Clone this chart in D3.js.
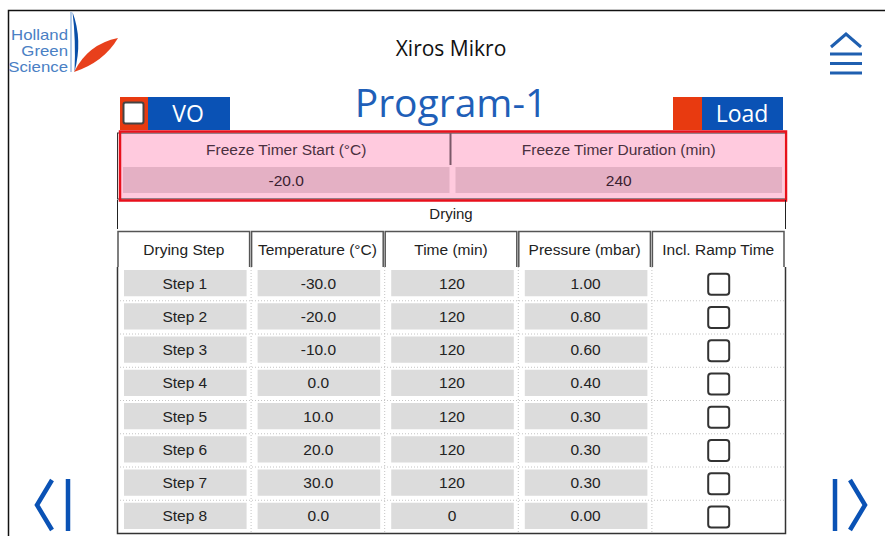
<!DOCTYPE html>
<html>
<head>
<meta charset="utf-8">
<script src="https://cdn.jsdelivr.net/npm/d3@7"></script>
<style>
  body { margin: 0; background: #fff; }
  svg { display: block; }
  .cell { font-family: "Liberation Sans", Arial, sans-serif; font-size: 15.5px; fill: #222; }
</style>
</head>
<body>
<script>
var svgWidth = 885;
var svgHeight = 536;

// data
var steps = ["Step 1", "Step 2", "Step 3", "Step 4", "Step 5", "Step 6", "Step 7", "Step 8"];
var temperatures = [-30.0, -20.0, -10.0, 0.0, 10.0, 20.0, 30.0, 0.0];
var times = [120, 120, 120, 120, 120, 120, 120, 0];
var pressures = [1.00, 0.80, 0.60, 0.40, 0.30, 0.30, 0.30, 0.00];
var rampTime = [false, false, false, false, false, false, false, false];
var columns = ["Drying Step", "Temperature (°C)", "Time (min)", "Pressure (mbar)", "Incl. Ramp Time"];
var freezeLabels = ["Freeze Timer Start (°C)", "Freeze Timer Duration (min)"];
var freezeValues = ["-20.0", "240"];

var blue = "#0a52b5";

var svg = d3.select("body")
            .append("svg")
            .attr("width", svgWidth)
            .attr("height", svgHeight);

// frame
svg.append("path")
   .attr("d", "M8.5,536 V10.5 H885")
   .attr("fill", "none")
   .attr("stroke", "#111")
   .attr("stroke-width", 1.5);

// logo
var logo = svg.append("g");
var logoText = logo.append("g").attr("transform", "translate(68,0) scale(1.2,1)");
["Holland", "Green", "Science"].forEach(function(t, i) {
    logoText.append("text")
        .attr("x", 0)
        .attr("y", 40 + i * 16)
        .attr("text-anchor", "end")
        .style("font-family", "'Liberation Sans', Arial, sans-serif")
        .style("font-size", "14px")
        .attr("fill", "#4a80c4")
        .text(t);
});
logo.append("line").attr("x1", 71).attr("x2", 71).attr("y1", 12).attr("y2", 72)
    .attr("stroke", "#9bbce4").attr("stroke-width", 1.5);
logo.append("path")
    .attr("d", "M72.5,12 Q83,40 74.5,72 Q76,40 72.5,12 Z")
    .attr("fill", "#0a4fa8");
logo.append("path")
    .attr("d", "M74,72 Q88,44 118,38 Q104,62 74,72 Z")
    .attr("fill", "#e8401c");

// header titles
svg.append("text")
   .attr("x", 451).attr("y", 56)
   .attr("text-anchor", "middle")
   .style("font-family", "'Open Sans', sans-serif")
   .style("font-size", "21px")
   .attr("fill", "#111")
   .text("Xiros Mikro");

svg.append("text")
   .attr("x", 451).attr("y", 117)
   .attr("text-anchor", "middle")
   .style("font-family", "'Open Sans', sans-serif")
   .style("font-size", "39px")
   .attr("fill", "#1f5fb8")
   .text("Program-1");

// menu icon
var menu = svg.append("g").attr("stroke", "#1f5fb0").attr("stroke-width", 3).attr("fill", "none");
menu.append("path").attr("d", "M831,47 L846,34 L861,47");
[54, 63.5, 73].forEach(function(y) {
    menu.append("line").attr("x1", 830).attr("x2", 862).attr("y1", y).attr("y2", y);
});

// VO button
svg.append("rect").attr("x", 120).attr("y", 97).attr("width", 28).attr("height", 33).attr("fill", "#e83a10");
svg.append("rect").attr("x", 148).attr("y", 97).attr("width", 82).attr("height", 33).attr("fill", blue);
svg.append("rect").attr("x", 123.5).attr("y", 102.5).attr("width", 20).attr("height", 21).attr("rx", 2)
   .attr("fill", "#fff").attr("stroke", "#444").attr("stroke-width", 2);
svg.append("text").attr("x", 188).attr("y", 122).attr("text-anchor", "middle")
   .style("font-family", "'Open Sans', sans-serif").style("font-size", "23px")
   .attr("fill", "#fff").text("VO");

// Load button
svg.append("rect").attr("x", 673).attr("y", 97).attr("width", 29).attr("height", 33).attr("fill", "#e83a10");
svg.append("rect").attr("x", 702).attr("y", 97).attr("width", 81).attr("height", 33).attr("fill", blue);
svg.append("text").attr("x", 742).attr("y", 122).attr("text-anchor", "middle")
   .style("font-family", "'Open Sans', sans-serif").style("font-size", "23px")
   .attr("fill", "#fff").text("Load");

// freeze timer panel
var fx = d3.scaleBand().domain([0, 1]).range([121, 784]).paddingInner(0.006);
var freeze = svg.append("g");
freeze.append("rect").attr("x", 121).attr("y", 133).attr("width", 663).attr("height", 66).attr("fill", "#ffcade");
freeze.append("rect").attr("x", 117.5).attr("y", 133).attr("width", 668).attr("height", 66)
      .attr("fill", "none").attr("stroke", "#333").attr("stroke-width", 1);
freeze.append("line").attr("x1", 450.5).attr("x2", 450.5).attr("y1", 133).attr("y2", 165)
      .attr("stroke", "#7a5868").attr("stroke-width", 2);
freezeLabels.forEach(function(l, i) {
    freeze.append("text").attr("class", "cell")
          .attr("x", fx(i) + fx.bandwidth() / 2).attr("y", 155)
          .attr("text-anchor", "middle").style("fill", "#4a3040")
          .text(l);
    freeze.append("rect")
          .attr("x", fx(i) + 2).attr("y", 167).attr("width", fx.bandwidth() - 4).attr("height", 26)
          .attr("fill", "#e4b0c4");
    freeze.append("text").attr("class", "cell")
          .attr("x", fx(i) + fx.bandwidth() / 2).attr("y", 186)
          .attr("text-anchor", "middle").style("fill", "#3a2030")
          .text(freezeValues[i]);
});
freeze.append("rect").attr("x", 120).attr("y", 131.5).attr("width", 666).attr("height", 69)
      .attr("fill", "none").attr("stroke", "#e8101c").attr("stroke-width", 2.5);

// drying label row
svg.append("path").attr("d", "M117.5,200 V229 M785.5,200 V229")
   .attr("stroke", "#222").attr("stroke-width", 1);
svg.append("text").attr("class", "cell").attr("x", 451).attr("y", 219)
   .attr("text-anchor", "middle").style("font-size", "15px").text("Drying");

// table
var tableLeft = 117, tableRight = 785, headTop = 231, headBottom = 267, tableBottom = 533;
var x = d3.scaleBand().domain(d3.range(columns.length)).range([tableLeft, tableRight]);
var y = d3.scaleBand().domain(d3.range(steps.length)).range([headBottom, tableBottom]);

var table = svg.append("g");

// header cells
table.selectAll(".head").data(columns).enter().append("rect")
     .attr("x", (d, i) => x(i) + 1)
     .attr("y", headTop + 0.5)
     .attr("width", x.bandwidth() - 2)
     .attr("height", headBottom - headTop + 4)
     .attr("fill", "#fff")
     .attr("stroke", "#555")
     .attr("stroke-width", 1.5);
table.append("rect").attr("x", tableLeft).attr("y", headBottom)
     .attr("width", tableRight - tableLeft).attr("height", tableBottom - headBottom).attr("fill", "#fff");
table.selectAll(".headText").data(columns).enter().append("text")
     .attr("class", "cell")
     .attr("x", (d, i) => x(i) + x.bandwidth() / 2)
     .attr("y", 255)
     .attr("text-anchor", "middle")
     .text(d => d);

// dotted grid
d3.range(1, steps.length).forEach(function(r) {
    table.append("line").attr("x1", tableLeft).attr("x2", tableRight)
         .attr("y1", y(r) + 0.5).attr("y2", y(r) + 0.5)
         .attr("stroke", "#c4c4c4").attr("stroke-dasharray", "1,2");
});
d3.range(1, columns.length).forEach(function(c) {
    table.append("line").attr("x1", x(c) + 0.5).attr("x2", x(c) + 0.5)
         .attr("y1", headBottom).attr("y2", tableBottom)
         .attr("stroke", "#c4c4c4").attr("stroke-dasharray", "1,2");
});

// body cells
var rowsData = steps.map(function(s, i) {
    return [s, temperatures[i].toFixed(1), String(times[i]), pressures[i].toFixed(2), rampTime[i]];
});
rowsData.forEach(function(row, r) {
    row.forEach(function(v, c) {
        if (c < 4) {
            table.append("rect")
                 .attr("x", x(c) + 7).attr("y", y(r) + 3)
                 .attr("width", x.bandwidth() - 11).attr("height", y.bandwidth() - 7)
                 .attr("fill", "#dcdcdc");
            table.append("text").attr("class", "cell")
                 .attr("x", x(c) + x.bandwidth() / 2 + 1)
                 .attr("y", y(r) + y.bandwidth() / 2 + 5)
                 .attr("text-anchor", "middle")
                 .text(v);
        } else {
            table.append("rect")
                 .attr("x", x(c) + x.bandwidth() / 2 - 10).attr("y", y(r) + y.bandwidth() / 2 - 10)
                 .attr("width", 21).attr("height", 21).attr("rx", 3)
                 .attr("fill", v ? "#333" : "#fff")
                 .attr("stroke", "#333").attr("stroke-width", 2);
        }
    });
});

// table outline
table.append("path")
     .attr("d", `M${tableLeft + 0.5},${headBottom} V${tableBottom + 0.5} H${tableRight + 0.5} V${headBottom}`)
     .attr("fill", "none").attr("stroke", "#333").attr("stroke-width", 1.5);

// navigation arrows
var nav = svg.append("g").attr("fill", "none").attr("stroke", blue).attr("stroke-width", 4.5);
nav.append("path").attr("d", "M52,480 L37,505 L52,530");
nav.append("line").attr("x1", 68).attr("x2", 68).attr("y1", 479).attr("y2", 531);
nav.append("line").attr("x1", 835).attr("x2", 835).attr("y1", 479).attr("y2", 531);
nav.append("path").attr("d", "M850,480 L865,505 L850,530");
</script>
</body>
</html>
